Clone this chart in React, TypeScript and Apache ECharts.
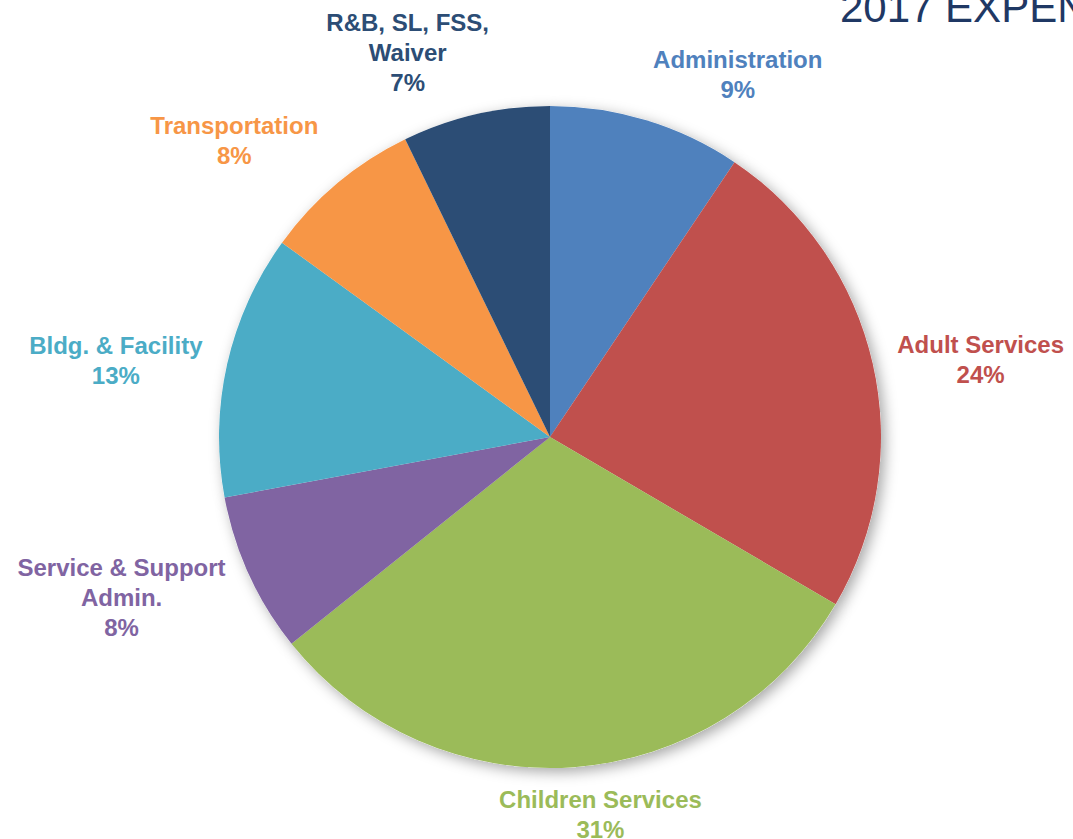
import React, { useEffect, useRef } from "react";
import * as echarts from "echarts";

const categories = [
  "Administration",
  "Adult Services",
  "Children Services",
  "Service & Support\nAdmin.",
  "Bldg. & Facility",
  "Transportation",
  "R&B, SL, FSS,\nWaiver",
];
const values = [9.4, 24.0, 30.8, 7.8, 12.9, 7.8, 7.2];
const colors = ["#4F81BD", "#C0504D", "#9BBB59", "#8064A2", "#4BACC6", "#F79646", "#2C4D75"];
const titleText = "2017 EXPENSES";

const CX = 550;
const CY = 437;
const R = 331;
const LABEL_R = 348;

export default function App() {
  const ref = useRef<HTMLDivElement>(null);
  useEffect(() => {
    if (!ref.current) return;
    const chart = echarts.init(ref.current, null, { renderer: "svg" });
    const total = values.reduce((a, b) => a + b, 0);
    const data = categories.map((n, i) => ({ name: n, value: values[i], itemStyle: { color: colors[i] } }));
    chart.setOption({
      animation: false,
      backgroundColor: "#ffffff",
      graphic: [
        {
          type: "text",
          left: 840,
          top: -14,
          style: {
            text: titleText,
            fill: "#1F3864",
            font: "42px 'Liberation Sans', Arial, sans-serif",
          },
        },
      ],
      series: [
        {
          type: "pie",
          silent: true,
          z: 1,
          center: [CX, CY],
          radius: [0, R],
          startAngle: 90,
          clockwise: true,
          label: { show: false },
          labelLine: { show: false },
          data: values.map((v) => ({ value: v, itemStyle: { color: "#ffffff" } })),
          itemStyle: {
            shadowBlur: 14,
            shadowColor: "rgba(0,0,0,0.35)",
            shadowOffsetX: 4,
            shadowOffsetY: 4,
          },
        },
        {
          type: "pie",
          z: 2,
          center: [CX, CY],
          radius: [0, R],
          startAngle: 90,
          clockwise: true,
          avoidLabelOverlap: false,
          itemStyle: { borderWidth: 0 },
          label: {
            show: true,
            position: "outside",
            fontFamily: "'Liberation Sans', Arial, sans-serif",
            fontWeight: "bold",
            fontSize: 24,
            lineHeight: 30,
            color: "inherit",
            formatter: (p: any) => `${p.name}\n${Math.round(p.percent)}%`,
          },
          labelLine: { show: false },
          labelLayout: (params: any) => {
            const idx = params.dataIndex;
            let start = 0;
            for (let i = 0; i < idx; i++) start += values[i];
            const mid = ((start + values[idx] / 2) / total) * Math.PI * 2;
            const sx = Math.sin(mid);
            const sy = -Math.cos(mid);
            const px = CX + LABEL_R * sx;
            const py = CY + LABEL_R * sy;
            const gx = Math.sign(sx) * Math.min(1, Math.abs(sx) * 3.2);
            const gy = Math.sign(sy) * Math.min(1, Math.max(0, Math.abs(sy) - 0.3) * 3);
            const w = params.labelRect.width;
            const h = params.labelRect.height;
            return {
              x: px + (w / 2 + 8) * gx,
              y: py + (h / 2) * gy,
              align: "center",
              verticalAlign: "middle",
            };
          },
          data,
        },
      ],
    });
    return () => chart.dispose();
  }, []);
  return (
    <div
      ref={ref}
      style={{ position: "absolute", left: 0, top: 0, width: 1073, height: 839 }}
    />
  );
}
